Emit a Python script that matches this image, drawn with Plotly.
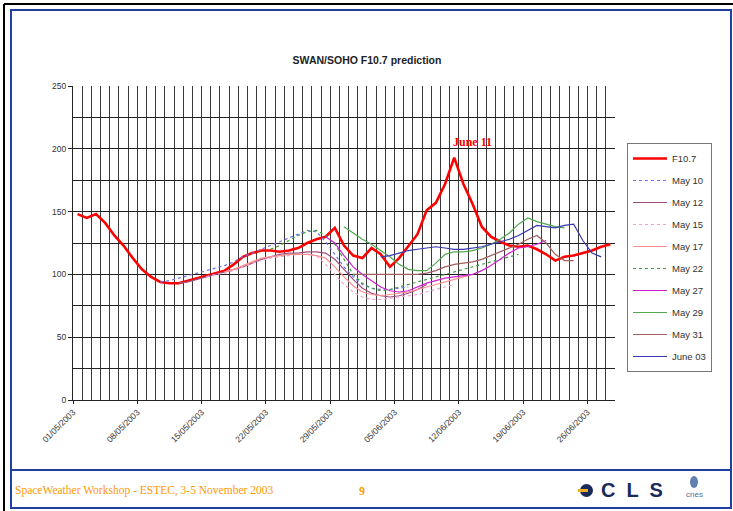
import datetime as dt
import plotly.graph_objects as go

# ---------------- data ----------------
first_day = dt.date(2003, 5, 1)
n_days = 59
dates = [first_day + dt.timedelta(days=k) for k in range(n_days)]
tick_label_every = 7

f107 = [148, 145, 148, 141, 131, 123, 113, 104, 98, 94, 93, 93, 95, 97, 99, 101, 103,
        108, 114, 117, 119, 119, 118, 119, 121, 125, 128, 130, 137, 123, 115, 113, 121,
        116, 106, 113, 123, 132, 151, 157, 172, 193, 172, 156, 138, 130, 126, 123, 122,
        123, 120, 116, 111, 114, 115, 117, 119, 122, 124]

series_names = ["May 10", "May 12", "May 15", "May 17", "May 22", "May 27", "May 29", "May 31", "June 03"]
series_start = ["2003-05-10", "2003-05-12", "2003-05-15", "2003-05-17", "2003-05-22",
                "2003-05-28", "2003-05-30", "2003-05-31", "2003-06-03"]
may10 = [94, 95, 97, 99, 101, 103, 105, 107, 110, 114, 117, 120, 123, 126, 129, 132, 135, 134,
         126, 116, 106, 98, 92, 89, 88, 88, 89, 90]
may12 = [93, 94, 96, 98, 100, 102, 104, 106, 109, 112, 114, 116, 117, 117, 118, 118, 117, 112,
         104, 96, 89, 85, 83, 82, 83, 85, 88, 92]
may15 = [98, 100, 101, 103, 106, 109, 111, 113, 114, 115, 116, 116, 115, 108, 100, 92, 86, 82,
         80, 80, 81, 82, 83, 84, 86, 88, 90, 92]
may17 = [102, 104, 107, 110, 113, 114, 115, 116, 116, 116, 115, 113, 106, 98, 91, 86, 84, 83,
         84, 85, 86, 88, 90, 92, 94, 96, 98, 100]
may22 = [120, 123, 127, 131, 134, 135, 131, 124, 112, 100, 93, 89, 87, 88, 90, 92, 94, 96, 98,
         100, 102, 104, 106, 108, 110, 112, 114, 116]
may27 = [130, 125, 115, 106, 100, 95, 90, 87, 86, 87, 90, 93, 95, 97, 98, 99, 100, 103, 107,
         112, 117, 121, 122, 124, 127]
may29 = [138, 133, 128, 124, 119, 114, 108, 104, 103, 103, 109, 116, 118, 118, 119, 121, 124,
         128, 133, 140, 145, 142, 140, 138, 137]
may31 = [100, 100, 100, 100, 100, 100, 100, 100, 101, 103, 106, 108, 109, 110, 112, 115, 118,
         121, 124, 128, 131, 125, 116, 111, 111]
june03 = [114, 115, 117, 119, 120, 121, 122, 121, 120, 120, 121, 122, 124, 126, 128, 131, 135,
          139, 138, 137, 139, 140, 127, 117, 114]
series_values = [may10, may12, may15, may17, may22, may27, may29, may31, june03]

peak_label = "June 11"
peak_date = "2003-06-11"
title_text = "SWAN/SOHO F10.7 prediction"
footer_text = "SpaceWeather Workshop - ESTEC, 3-5 November 2003"
page_number = "9"

# ---------------- styles ----------------
series_styles = [
    dict(color="#7070F0", dash="dot", width=1.2),
    dict(color="#A05080", dash="solid", width=1.2),
    dict(color="#F0A0D0", dash="dot", width=1.2),
    dict(color="#FF9090", dash="solid", width=1.2),
    dict(color="#40A040", dash="dot", width=1.2),
    dict(color="#D020D0", dash="solid", width=1.2),
    dict(color="#50A850", dash="solid", width=1.2),
    dict(color="#A06060", dash="solid", width=1.2),
    dict(color="#3838B0", dash="solid", width=1.2),
]

W, H = 733, 511
L, R, T, B = 73, 615, 86, 400  # plot area in pixels


def px_x(p):
    return (p - L) / (R - L)


def px_y(p):
    return (B - p) / (B - T)


fig = go.Figure()
fig.add_trace(go.Scatter(x=dates, y=f107, mode="lines", name="F10.7", legendgroup="g0",
                         line=dict(color="#FF0000", width=2.6)))
for k, (nm, st, vals, sty) in enumerate(zip(series_names, series_start, series_values, series_styles)):
    s0 = dt.date.fromisoformat(st)
    xs = [s0 + dt.timedelta(days=j) for j in range(len(vals))]
    fig.add_trace(go.Scatter(x=xs, y=vals, mode="lines", name=nm, legendgroup=f"g{k+1}",
                             line=sty))

half = dt.timedelta(hours=12)
x_lo = dt.datetime.combine(dates[0], dt.time()) - half
x_hi = dt.datetime.combine(dates[-1], dt.time()) + half
tickvals = [dt.datetime.combine(d, dt.time()) - half for d in dates[::tick_label_every]]
ticktext = [d.strftime("%d/%m/%Y") for d in dates[::tick_label_every]]

fig.update_xaxes(
    type="date", range=[x_lo, x_hi], tickmode="array", tickvals=tickvals, ticktext=ticktext,
    tickangle=-45, tickfont=dict(family="Liberation Sans", size=8.5, color="#333"),
    showgrid=True, gridcolor="#3a3a3a", gridwidth=1,
    minor=dict(tick0=x_lo, dtick=86400000, showgrid=True, gridcolor="#3a3a3a", gridwidth=1,
               ticks=""),
    showline=True, linecolor="#222", linewidth=1, ticks="outside", ticklen=3, tickcolor="#222",
    zeroline=False, fixedrange=True,
)
fig.update_yaxes(
    range=[0, 250], dtick=50, tick0=0, tickfont=dict(family="Liberation Sans", size=8.5, color="#333"),
    showgrid=True, gridcolor="#222", gridwidth=1,
    minor=dict(dtick=25, showgrid=True, gridcolor="#222", gridwidth=1, ticks=""),
    showline=True, linecolor="#222", linewidth=1, ticks="outside", ticklen=4, tickcolor="#222",
    zeroline=False, fixedrange=True,
)

shapes = []
# slide frame
shapes.append(dict(type="line", xref="paper", yref="paper", x0=px_x(4), x1=px_x(733), y0=px_y(4), y1=px_y(4),
                   line=dict(color="#000", width=2), layer="above"))
shapes.append(dict(type="line", xref="paper", yref="paper", x0=px_x(4), x1=px_x(4), y0=px_y(4), y1=px_y(511),
                   line=dict(color="#000", width=2), layer="above"))
shapes.append(dict(type="rect", xref="paper", yref="paper", x0=px_x(11), x1=px_x(731), y0=px_y(10), y1=px_y(508),
                   line=dict(color="#2040A0", width=2), layer="above"))
shapes.append(dict(type="line", xref="paper", yref="paper", x0=px_x(11), x1=px_x(731), y0=px_y(470), y1=px_y(470),
                   line=dict(color="#2040A0", width=2), layer="above"))
# CLS logo emblem
shapes.append(dict(type="circle", xref="paper", yref="paper", x0=px_x(580), x1=px_x(593), y0=px_y(484), y1=px_y(497),
                   fillcolor="#1a2a5a", line=dict(width=0), layer="above"))
shapes.append(dict(type="rect", xref="paper", yref="paper", x0=px_x(578), x1=px_x(588), y0=px_y(489), y1=px_y(492),
                   fillcolor="#F0B020", line=dict(width=0), layer="above"))
# cnes emblem
shapes.append(dict(type="circle", xref="paper", yref="paper", x0=px_x(690), x1=px_x(698), y0=px_y(476), y1=px_y(488),
                   fillcolor="#6080B0", line=dict(width=0), layer="above"))

annotations = [
    dict(x=peak_date, y=max(f107), xref="x", yref="y", text=f"<b>{peak_label}</b>", showarrow=False,
         xshift=18, yshift=16, font=dict(family="Liberation Serif", size=12, color="#FF0000")),
    dict(x=px_x(13), y=px_y(490), xref="paper", yref="paper", text=footer_text, showarrow=False,
         xanchor="left", yanchor="middle", font=dict(family="Liberation Serif", size=11.5, color="#FF9900")),
    dict(x=px_x(362), y=px_y(491), xref="paper", yref="paper", text=f"<b>{page_number}</b>", showarrow=False,
         xanchor="center", yanchor="middle", font=dict(family="Liberation Serif", size=12, color="#FF9900")),
    dict(x=px_x(632), y=px_y(490), xref="paper", yref="paper", text="<b>C  L  S</b>", showarrow=False,
         xanchor="center", yanchor="middle", font=dict(family="Liberation Sans", size=20, color="#1a2a5a")),
    dict(x=px_x(694), y=px_y(494), xref="paper", yref="paper", text="cnes", showarrow=False,
         xanchor="center", yanchor="middle", font=dict(family="Liberation Sans", size=8, color="#5070A0")),
]

fig.update_layout(
    width=W, height=H,
    margin=dict(l=L, r=W - R, t=T, b=H - B, autoexpand=False),
    paper_bgcolor="white", plot_bgcolor="white",
    title=dict(text=f"<b>{title_text}</b>", x=367 / W, xanchor="center", y=1 - 60 / H, yanchor="middle",
               font=dict(family="Liberation Sans", size=10.5, color="#222")),
    showlegend=True,
    legend=dict(x=px_x(627), y=px_y(143), xanchor="left", yanchor="top", bgcolor="white",
                bordercolor="#777", borderwidth=1, tracegroupgap=3,
                font=dict(family="Liberation Sans", size=9.5, color="#333"), itemwidth=34),
    shapes=shapes, annotations=annotations,
)

fig.write_html("out.html", config={"displayModeBar": False},
               post_script="document.body.style.margin='0';document.body.style.overflow='hidden';")
